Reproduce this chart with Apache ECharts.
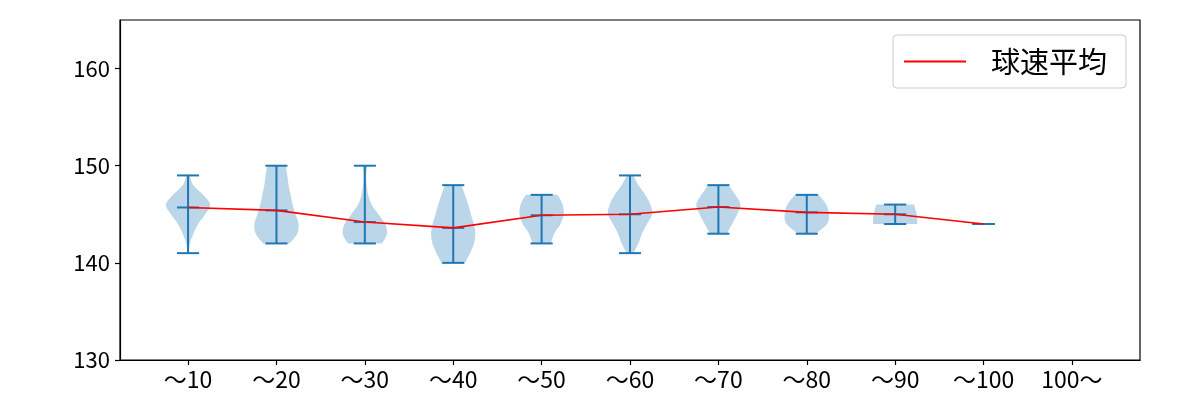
<!DOCTYPE html>
<html><head><meta charset="utf-8">
<script src="https://cdn.jsdelivr.net/npm/echarts@6/dist/echarts.min.js"></script>
<style>html,body{margin:0;padding:0;background:#fff}#c{width:1200px;height:400px}</style>
</head><body><div id="c"></div>
<script>
// ---- data ----
const categories = ['〜10','〜20','〜30','〜40','〜50','〜60','〜70','〜80','〜90','〜100','100〜'];
const positions = [1,2,3,4,5,6,7,8,9,10,11];
const mins  = [141,142,142,140,142,141,143,143,144,144];
const maxs  = [149,150,150,148,147,149,148,147,146,144];
const means = [145.7,145.4,144.2,143.6,144.9,145.0,145.75,145.2,145.0,144.0];
// relative half-widths of each violin, evenly spaced from min (first) to max (last)
const densities = [
  [0.03,0.08,0.24,0.45,0.76,0.98,0.67,0.23,0.08],
  [0.60,0.94,1.00,0.86,0.73,0.64,0.55,0.49,0.42],
  [0.76,0.98,0.90,0.60,0.30,0.15,0.08,0.06,0.10],
  [0.53,0.76,0.94,1.00,0.93,0.80,0.68,0.53,0.38],
  [0.42,0.57,0.85,1.00,0.95,0.72],
  [0.15,0.38,0.54,0.77,1.00,0.92,0.69,0.38,0.15],
  [0.38,0.62,0.85,1.00,0.77,0.46],
  [0.40,0.92,1.00,0.88,0.54],
  [1.00,1.00,0.97,0.92,0.85],
  []
];
const yTicks = [130,140,150,160];
const seriesName = '球速平均';

const FONT = '"Noto Sans CJK JP", "Noto Sans", sans-serif';
const BLUE = '#1f77b4';

const violinData = mins.map((m,i)=>[positions[i], m, maxs[i], means[i], i]);
const meanData = means.map((v,i)=>[positions[i], v]);

function catmull(pts, steps){
  const out=[];
  for(let i=0;i<pts.length-1;i++){
    const p0=pts[Math.max(0,i-1)], p1=pts[i], p2=pts[i+1], p3=pts[Math.min(pts.length-1,i+2)];
    for(let s=0;s<steps;s++){
      const t=s/steps, t2=t*t, t3=t2*t;
      const f=(a,b,c,d)=>0.5*((2*b)+(-a+c)*t+(2*a-5*b+4*c-d)*t2+(-a+3*b-3*c+d)*t3);
      out.push([f(p0[0],p1[0],p2[0],p3[0]), f(p0[1],p1[1],p2[1],p3[1])]);
    }
  }
  out.push(pts[pts.length-1]);
  return out;
}

function renderViolin(params, api){
  const pos=api.value(0), lo=api.value(1), hi=api.value(2), mu=api.value(3), idx=api.value(4);
  const dens=densities[idx];
  const c0=api.coord([pos,lo]), c1=api.coord([pos,hi]), cm=api.coord([pos,mu]);
  const half=api.size([0.25,0])[0];
  const cap=api.size([0.125,0])[0];
  const children=[];
  if(dens.length>1){
    const mx=Math.max(...dens);
    const n=dens.length;
    const prof=dens.map((d,k)=>{
      const y=c0[1]+(c1[1]-c0[1])*k/(n-1);
      return [d/mx*half, y];
    });
    const sm=catmull(prof,10).map(p=>[Math.max(0,p[0]),p[1]]);
    const pts=[];
    sm.forEach(p=>pts.push([c0[0]+p[0],p[1]]));
    for(let k=sm.length-1;k>=0;k--) pts.push([c0[0]-sm[k][0],sm[k][1]]);
    children.push({type:'polygon',shape:{points:pts},style:{fill:'rgba(31,119,180,0.3)',stroke:null},z2:1});
  }
  const ls={stroke:BLUE,lineWidth:2,fill:null};
  children.push({type:'line',shape:{x1:c0[0],y1:c0[1],x2:c1[0],y2:c1[1]},style:ls,z2:2});
  [c0,c1,cm].forEach(c=>children.push({type:'line',shape:{x1:c[0]-cap,y1:c[1],x2:c[0]+cap,y2:c[1]},style:ls,z2:2}));
  return {type:'group',children};
}

const chart=echarts.init(document.getElementById('c'),null,{renderer:'canvas'});
chart.setOption({
  animation:false,
  backgroundColor:'#fff',
  textStyle:{fontFamily:FONT},
  grid:{left:120,right:60,top:20,bottom:40,show:true,borderColor:'#000',borderWidth:1.2,backgroundColor:'transparent'},
  xAxis:{
    type:'value',min:0.23,max:11.77,
    axisLine:{show:true,lineStyle:{color:'#000',width:1.2}},
    axisTick:{show:true,length:5,customValues:positions,lineStyle:{color:'#000',width:1.2}},
    axisLabel:{customValues:positions,formatter:v=>categories[Math.round(v)-1]||'',color:'#000',fontSize:23,fontFamily:FONT,margin:8},
    splitLine:{show:false}
  },
  yAxis:{
    type:'value',min:130,max:165,
    axisLine:{show:true,lineStyle:{color:'#000',width:1.2}},
    axisTick:{show:true,length:5,customValues:yTicks,lineStyle:{color:'#000',width:1.2}},
    axisLabel:{customValues:yTicks,color:'#000',fontSize:22,fontFamily:FONT,margin:10},
    splitLine:{show:false}
  },
  legend:{
    left:893,top:35,orient:'vertical',
    padding:[12,19,12,11],
    backgroundColor:'#fff',borderColor:'#ccc',borderWidth:1,borderRadius:4,
    itemWidth:62,itemHeight:2,
    textStyle:{fontSize:29,color:'#000',fontFamily:FONT,padding:[0,0,0,20]},
    data:[{name:seriesName,icon:'rect'}]
  },
  series:[
    {type:'custom',name:'violin',renderItem:renderViolin,data:violinData,encode:{x:0,y:[1,2]},z:2,silent:true},
    {type:'line',name:seriesName,data:meanData,showSymbol:false,symbol:'none',
     lineStyle:{color:'#ff0000',width:1.6},itemStyle:{color:'#ff0000'},z:5}
  ]
});
</script>
</body></html>
